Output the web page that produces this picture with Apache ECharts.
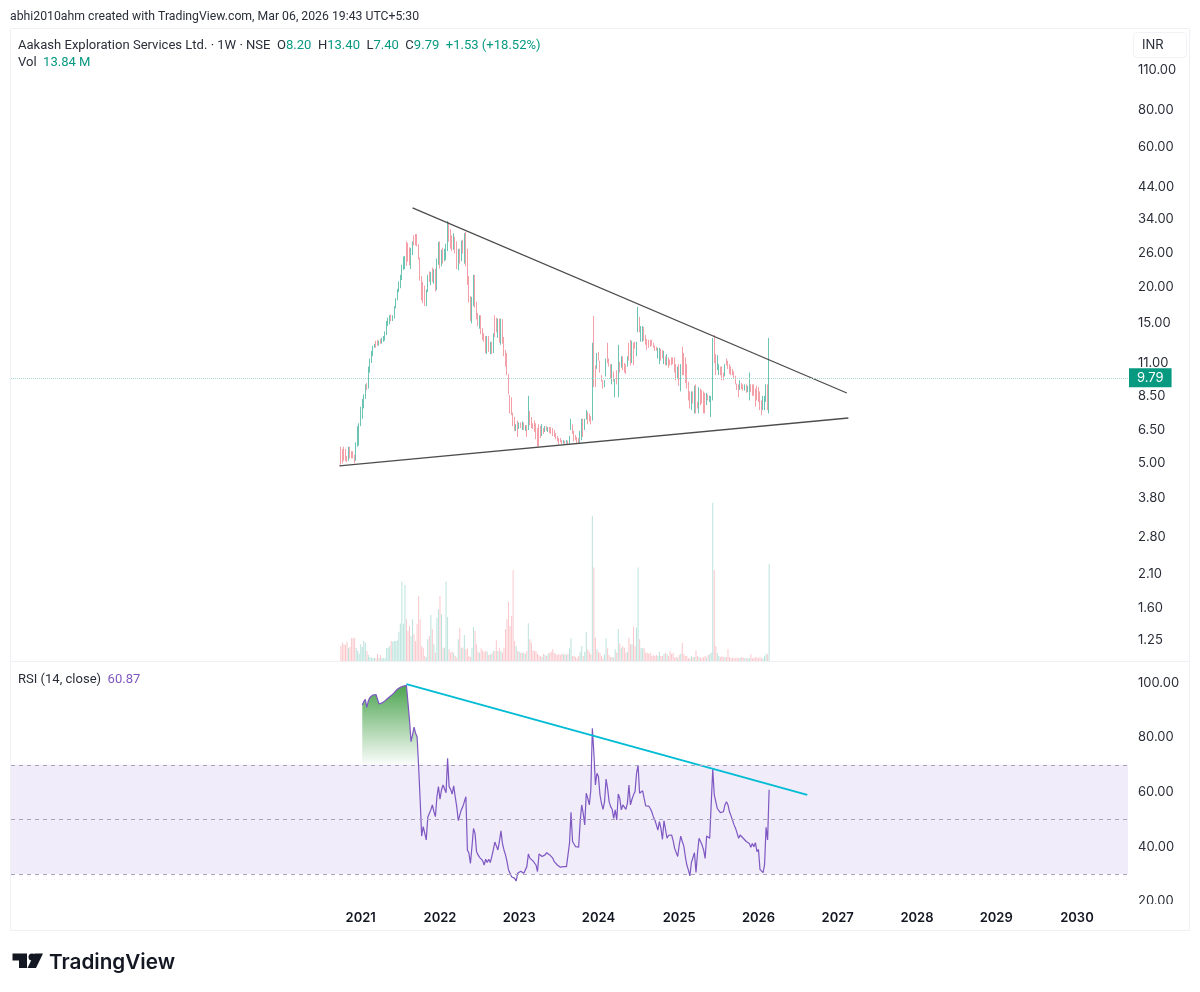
<!DOCTYPE html>
<html>
<head>
<meta charset="utf-8">
<title>Aakash Exploration Services Ltd.</title>
<script src="https://cdn.jsdelivr.net/npm/echarts@6/dist/echarts.min.js"></script>
<style>
  html, body { margin: 0; padding: 0; background: #fff; }
  #chart { width: 1200px; height: 992px; }
</style>
</head>
<body>
<div id="chart"></div>
<script>
// weekly bars, first one is the week of 2020-10-05
var opens = [
  5.6,5.5,5.4,5.5,5.25,5.15,5.6,5.45,5.4,5.3, 5.1,5.75,6.6,6.75,7.7,8,8.5,9.2,9,10.5,
  11.2,12,12.5,13,12.9,12.7,13.1,13,13.2,13.3, 14,15,15.2,16,15.5,15.9,17,18.2,19.5,20.2,
  21.6,23,23.5,28.4,28,27,23.5,26,29.8,30, 29.8,27.7,25,21.5,20,19.7,18,19.5,21.5,21,
  22,21,22.3,20.5,24.5,27,24,26,25,26, 27,32,29.5,28,27,28,27,24,25.5,25,
  28,26.5,30,24.5,21.5,18.2,15.8,18,21,17.5, 16,15,15.7,14.2,13.5,13.2,12.3,13.3,12.3,12.7,
  12,15.5,15.2,14.2,15.4,13.1,15.3,13.1,12,11, 10,8.5,8.3,7.4,7.1,6.5,6.95,6.55,6.85,6.65,
  6.85,6.55,6.7,6.6,7.5,6.9,6.75,6.65,6.8,6.5, 6.7,6.6,6.2,6.55,6.45,6.6,6.5,6.6,6.45,6.4,
  6.3,6.25,6.1,6,6.05,5.92,5.88,5.95,5.87,5.92, 5.85,6.5,6.7,6.4,6.1,6.05,5.9,5.85,6.4,7,
  6.5,7.05,7.5,7.3,7.1,7,12.5,10,10.7,11.7, 11,9.95,9.55,9.2,9.9,12.5,11.2,10.85,10,10.25,
  8.5,10.2,8.6,11,10.6,11.4,11,10.9,10.7,12.6, 13.2,11.2,12.9,12.8,12.4,14,15.7,13.2,13.6,14.4,
  13.5,13.2,13.2,12.9,13.1,12.8,12.5,12.4,11.8,11.9, 12,12.2,11,11.6,11,11.5,11.2,11.3,11.4,11.3,
  10.5,9.8,10.5,9.2,12.4,11.8,11.5,10.8,9.3,8.4, 7.7,8.7,7.5,9.1,8.05,7.5,8.9,8.85,8.6,8.5,
  7.9,8.5,8.2,7.6,8.3,13.7,11.5,10.5,10,10.6, 10.6,10.2,9.9,11.4,11.2,10.9,10.5,10.3,10.1,9.8,
  9.3,9.1,8.9,9.4,9.05,8.9,9,8.8,8.3,9.2, 8.9,9.1,8.9,9,9,8.7,8.1,7.7,7.7,8.2,
  9.2,8.2
];
var highs = [
  5.7,5.6,5.7,5.6,5.3,5.7,5.7,5.5,5.5,5.35, 5.9,6.7,6.85,7.8,8.3,8.6,9.3,9.4,10.7,11.4,
  12.1,12.6,12.8,13.1,13.2,13.1,13.3,13.4,13.6,14.1, 15.3,15.7,16,16.1,16,17.2,18.3,19.7,20.9,22,
  23.8,25.4,25.5,28.6,28.3,27.3,27.2,28.6,30,30.3, 30.3,28,25.2,21.8,20.8,20.2,19.6,22,22.6,22.5,
  23.3,23,23.1,25,28.5,28.6,26.8,27.2,27,28.1, 33.6,33.3,31.5,30,30.5,29.7,28.6,27,27,28.8,
  29,30.5,30.8,27,21.8,18.6,18.5,22,22,17.8, 16.3,16,16,14.5,13.9,13.6,13.6,13.6,13,13,
  13.9,16,15.7,15.6,15.6,15.6,15.5,13.5,12.2,11.9, 10.1,8.55,8.4,7.45,7.2,6.8,7,6.9,6.9,6.95,
  6.9,6.75,6.75,8.5,7.55,7.2,6.85,7,6.85,6.6, 6.8,6.7,6.8,6.6,6.7,6.7,6.65,6.65,6.65,6.6,
  6.5,6.35,6.2,6.1,6.1,6,6,5.97,6,5.98, 6.2,7.1,6.8,6.45,6.25,6.15,6.1,6.45,7.1,7.1,
  7.1,7.6,7.5,7.4,7.25,12.9,15.9,10.8,11.9,12, 11.2,10,9.6,9.6,11.4,12.9,11.4,10.9,10.9,10.3,
  9.7,10.4,12.7,11.1,11.6,11.6,11,10.9,11.6,12.9, 13.2,13.1,12.9,13,13,17.1,15.8,14.7,14.7,14.6,
  13.7,13.3,13.2,13.2,13.2,12.9,12.6,12.5,12.4,12.4, 12.3,12.2,12.1,11.6,11.8,11.5,11.3,11.5,11.5,11.5,
  10.9,10.7,10.9,10.9,12.5,11.9,11.5,10.9,9.5,8.8, 8.8,8.8,9.2,9.3,8.1,9.1,9,8.9,8.8,8.7,
  8.7,8.6,8.5,8.5,13.4,13.7,11.8,11.7,10.9,10.7, 10.7,10.2,10.9,11.4,11.2,10.9,10.7,10.5,10.3,9.95,
  9.35,9.3,9.6,9.4,9.3,9.3,9.3,9.2,10.2,9.3, 9.3,9.3,9,9.2,9.1,8.8,8.2,8.5,8.5,9.3,
  9.3,13.4
];
var lows = [
  4.95,5,5.1,5.1,5.05,5.1,5.2,5.2,5.2,5, 5.1,5.7,5.75,6.7,7.1,7.7,8.3,8.9,9,10.2,
  11,11.6,12.4,12.4,12.6,12.6,12.8,12.8,13,13.1, 13.7,14.7,14.9,15.3,15.3,15.6,16.9,18,19.2,19.8,
  21.1,22.9,23,23.6,24.4,23.7,23,25.7,27.7,27.7, 27.5,24.8,21,18,17.6,17.2,17.2,19.2,20.8,20.3,
  20.8,20.5,19.3,19.5,23.8,23.1,23.5,24,24.5,24.7, 26.5,28.5,27,26.5,26.8,26,23,22.8,24,24.5,
  26,24,23.5,20.3,17.7,15.3,15,17.2,17,15.5, 14.7,14.4,13.8,13.2,13,11.9,11.8,12,11.8,11.8,
  11.9,13.5,14,13.4,12.9,12.7,12.8,11.6,10.7,10, 8.6,7.4,7.3,6.7,6.45,6.45,6.15,6.55,6.6,6.5,
  6.5,6.45,6.15,6.5,6.75,6.6,6.55,6.4,6.05,5.7, 5.72,6.1,6.2,6.3,6.4,6.45,6.4,6.35,6.3,6.2,
  6.15,6.05,5.95,5.8,5.9,5.82,5.84,5.83,5.84,5.8, 5.83,6.5,6.3,5.95,6,5.85,5.83,5.85,6,6.15,
  6.5,7.05,6.8,6.95,6.8,7,9.1,9.1,10.5,11.2, 10.2,9.5,9,9.1,9.9,11,10.7,9.7,9.3,9.5,
  8.4,9.3,8.4,10.2,10.6,10.4,10.2,10.1,10.7,11.2, 10.8,11,10.8,12.3,11.6,14,14,13,13,13.1,
  12.7,12.2,12.4,12.5,12.6,12.4,12.1,12.1,11.4,10.9, 11.2,11.4,10.9,10.8,10.8,10.6,10.8,10.8,10.9,10.2,
  9.6,9.7,9.2,8.8,10,10,9.4,9,8.2,7.7, 7.6,8,7.4,7.4,7.7,7.4,7.9,8,7.4,7.4,
  7.9,8.2,8.1,7.2,8.2,11,10,10.4,10,10, 9.6,9.6,9.9,10.8,10.5,10.1,10,10,9.7,9.3,
  8.9,8.4,8.9,8.95,8.85,8.85,8.7,8.75,8.2,8.75, 8.5,8.5,7.8,8.2,8.1,7.6,7.3,7.6,7.6,8.1,
  7.6,7.4
];
var closes = [
  5.05,5.1,5.2,5.2,5.15,5.6,5.3,5.3,5.3,5.1, 5.85,6.6,6.75,7.7,8.2,8.5,9.2,8.95,10.5,11.2,
  12,12.5,12.6,12.6,12.7,12.9,12.9,13.2,13.5,14, 15.2,15.6,15.8,15.5,15.9,17,18.2,19.6,20.7,21.5,
  23.3,24.8,25,25,25,24,26.5,28.5,28,28.3, 27.7,25,21.5,18.4,18,17.4,19.3,21.5,21,22,
  21,22.3,20.5,24.5,27.5,24,26,25,26,27.5, 32,29.5,28,27,28,27,24,25.5,25,28,
  26.5,30,24.5,21.5,18.2,16,18,21,17.5,16, 15,15.7,14.2,13.5,13.2,12.3,13.3,12.3,12.7,12,
  13.7,13.8,14.2,15.4,13.1,15.3,13.1,12,11,10.3, 8.8,7.6,7.5,6.9,6.6,6.7,6.3,6.85,6.65,6.85,
  6.55,6.7,6.25,7.5,6.9,6.75,6.65,6.5,6.15,5.85, 6.4,6.2,6.6,6.4,6.6,6.5,6.6,6.45,6.4,6.3,
  6.25,6.1,6,5.85,5.92,5.88,5.95,5.87,5.92,5.85, 6.15,7,6.4,6.05,6.05,5.9,5.85,6.4,7,6.4,
  7.05,7.5,7,7.05,6.9,12.5,10,9.6,11.7,11.3, 10.4,9.7,9.2,9.5,11.2,11.2,11,10,10.5,9.6,
  9.5,9.5,12,10.3,11.4,10.7,10.3,10.3,11.4,11.3, 11,12.8,11,12.4,12.8,16.5,14.5,13.6,14.3,13.7,
  12.9,12.4,12.8,12.7,12.8,12.5,12.2,12.2,12.2,12, 11.4,11.5,12,10.9,11.5,10.7,10.9,10.9,11,10.4,
  9.8,10.5,9.5,10.7,10.2,10.2,9.7,9.2,8.4,8, 8.7,8.1,9,7.6,7.8,8.9,8.1,8.2,7.6,7.5,
  8.5,8.3,8.4,8.3,12.6,11.3,10.4,11,10.6,10.2, 9.8,9.7,10.7,11,10.7,10.3,10.2,10.1,9.8,9.4,
  9.05,8.6,9.4,9.05,8.9,9,8.8,9,9.2,8.9, 8.6,8.7,8,8.4,8.3,7.8,7.5,8.4,8.3,9.1,
  8.26,9.79
];
// volume in millions
var volumes = [
  2.14,2.62,2.38,2.28,2.76,1.9,2,3.33,3.24,3.33, 1.9,1.43,1.05,2.38,2,2.86,2.62,1.43,.86,.57,
  .48,.38,.48,.38,1.05,.48,.86,.38,.38,.38, 1.81,1.9,2.14,2.86,2.76,2.86,2.86,2.95,4.19,5.33,
  11.33,5.33,10.85,5.95,4.28,5,3.57,5.95,3.81,2.86, 5.24,9.28,5.95,2.14,1.9,.71,.57,3.09,3.57,6.57,
  4.52,2.38,1.19,6.19,7.38,9.28,6.66,1.9,1.9,11.33, 6.28,1.67,1.19,1.33,1.19,.71,.48,3.09,4.76,1.9,
  1.9,3.71,1.67,1.81,.71,.57,1.9,4.86,4.28,2.38, 1.33,1.19,1.81,1.52,1.33,1.43,1.33,.86,.95,1.05,
  1.43,1.43,2.95,1.43,1.9,1.43,1.19,1.9,4.52,5.95, 8.47,5,6.43,12.95,2.86,2.14,1.43,1.33,1.19,1.19,
  1.19,1.05,1.43,5.38,3.09,2.62,1.52,1.43,1.43,1.05, .86,.71,.57,1.05,.86,.71,1.05,1.19,1.33,1.71,
  1.19,1.05,.86,1.05,.86,1.05,.95,1.05,.86,1.05, 1.81,3.24,.71,.71,.57,.38,.71,1.33,2.14,.71,
  1.33,4.19,1.67,1.33,.95,20.7,13.33,3.33,1.67,1.33, 1.19,.71,.38,.95,3.24,1.81,.86,.57,.57,.48,
  1.67,1.19,4.57,2.48,1.9,2.14,1.9,1.19,1.33,3.33, 2.38,2.38,4.9,2.14,4.76,13.33,3.09,1.9,1.81,1.81,
  1.19,1.19,1.05,1.19,.71,.86,.71,.86,.71,1.33, .71,.71,1.05,1.19,.95,.71,1.43,1.05,1.19,.48,
  .57,.48,.86,1.05,2.62,1.05,.71,.71,.38,.38, .71,.57,.57,1.52,.71,.57,.48,.38,.57,.71,
  .48,.86,.95,1.19,22.6,12.95,2.14,1.19,.71,.57, .71,.57,.57,.57,1.67,.57,.38,.48,.38,.38,
  .48,.38,.48,.57,.48,.38,.38,.38,.38,.95, .38,.38,.57,.48,.38,.57,.38,.38,.71,1.05,
  .95,13.84
];
// rsi starts on bar 14
var rsiStart = 14;
var rsiValues = [
  91.9,93.2,94,91.1,93.5,94.7,95.2,95.6,95.7,95.8, 96,92.3,92.5,92.7,92.8,93.5,94.1,94.5,95,95.4,
  96,96.5,97.2,97.7,98,98.4,98.7,98.9,99,99.1, 98.9,86.4,78.5,81,83.8,81.6,80.3,69.3,57,43.9,
  47.4,47,42.5,50.8,52.2,53.5,55.3,52.9,51,58.3, 62,57.4,60.8,62.6,62.4,59.8,72.4,62,61,59.3,
  62.3,58.3,54.7,49.6,49.4,53.5,54.7,55.3,58.3,38.8, 37.6,33.9,40,46.7,44.9,38.2,37,36.1,35.8,34.9,
  33.3,35.4,34.2,35.4,34.2,36.4,38.8,41.7,41,38.8, 41.9,45.8,41.2,38.8,37,34.5,31.5,30.3,29,28.8,
  28.4,27.4,30.3,30.6,31,30.6,30.3,30,32.7,37.3, 35.8,35.1,34.8,34.2,33.3,30.9,37.3,37,36.4,35.8,
  37,37.8,37.3,37,37.3,35.8,34.5,33.9,33.3,32.9, 32.5,32.2,32.7,32.1,32.7,33.3,41.2,52.6,41.9,41.2,
  40,39.5,39.8,49.2,55.3,52.2,48,59.6,57.7,55.3, 60.8,83.4,74.2,62.6,66.9,65.7,59,55.9,53.7,56.5,
  64.8,61.4,56.5,54.7,53.7,50.4,53.5,49.8,59.3,57.7, 53.5,55.3,55.3,53.7,55.9,62.6,55.3,57.4,59,60.2,
  66.9,69.9,59.6,60.2,60.5,57.7,55,54.9,54.9,54, 52.8,51,49.8,48,46.1,49.2,46.7,42.7,49.5,46.4,
  43.1,44.2,44.4,44.3,42.2,39.4,40,36.4,40.6,43.9, 41.9,40.3,36.4,33.3,31.5,29.3,34.2,34.5,37.8,30.6,
  37.6,43.1,41.9,40.6,38.8,35.7,43.9,43.4,43.1,43.7, 68.4,59,59,54,53.7,52.5,52.2,52.8,55.3,56.5,
  55.3,52.8,51.3,51.3,48,46.7,44.9,43.1,44.3,43.7, 43.1,42.5,41.9,41.2,41.2,39.8,41.2,40,41.5,38.2,
  39,31.7,31.2,30.5,33.3,47.1,42.5,60.87
];
var lastClose = 9.79;
var priceTicks = [110, 80, 60, 44, 34, 26, 20, 15, 11, 8.5, 6.5, 5, 3.8, 2.8, 2.1, 1.6, 1.25];
var rsiTicks = [100, 80, 60, 40, 20];
var rsiLevels = [70, 50, 30];
// [week index, value] ends of the hand drawn lines
var trendUpper = [[263, 37.2], [548, 8.69]];
var trendLower = [[215, 4.9], [549, 7.14]];
var trendRsi = [[259, 99.6], [522, 59]];

var upColor = '#089981';
var downColor = '#f23645';
var firstBarWeek = 216;

// axis runs weekly from 2016-08-15 to autumn 2030
var weeks = [];
for (var w = 0; w < 733; w++) {
  weeks.push(new Date(Date.UTC(2016, 7, 15 + w * 7)).toISOString().slice(0, 10));
}
var pad = function (n) { var a = []; for (var k = 0; k < n; k++) a.push('-'); return a; };

var candleData = pad(firstBarWeek);
var volumeData = pad(firstBarWeek);
opens.forEach(function (o, i) {
  candleData.push([o, closes[i], lows[i], highs[i]]);
  volumeData.push({
    value: volumes[i],
    itemStyle: { color: closes[i] >= o ? 'rgba(8,153,129,0.28)' : 'rgba(242,54,69,0.28)' }
  });
});
var rsiData = pad(firstBarWeek + rsiStart).concat(rsiValues);
// overbought stretch at the start gets the green fill
var rsiHot = pad(firstBarWeek + rsiStart).concat(rsiValues.slice(0, 38));

var font = 'Inter, "Noto Sans", sans-serif';
var headFont = 'Roboto, "Noto Sans", sans-serif';

var chart = echarts.init(document.getElementById('chart'), null, { renderer: 'canvas' });
chart.setOption({
  animation: false,
  backgroundColor: '#fff',
  textStyle: { fontFamily: font },
  title: [
    {
      text: 'abhi2010ahm created with TradingView.com, Mar 06, 2026 19:43 UTC+5:30',
      left: 5, top: 6,
      textStyle: { fontSize: 12.25, fontWeight: 400, color: '#2a2e39', fontFamily: headFont }
    },
    {
      text: 'Aakash Exploration Services Ltd. · 1W · NSE  O{g|8.20}  H{g|13.40}  L{g|7.40}  C{g|9.79}  {g|+1.53 (+18.52%)}',
      left: 13, top: 34,
      textStyle: {
        fontSize: 13.05, fontWeight: 400, color: '#2a2e39', fontFamily: headFont,
        rich: { g: { color: upColor, fontSize: 13.05, fontFamily: headFont } }
      }
    },
    {
      text: 'Vol  {g|13.84 M}',
      left: 13, top: 51,
      textStyle: {
        fontSize: 13.05, fontWeight: 400, color: '#2a2e39', fontFamily: headFont,
        rich: { g: { color: upColor, fontSize: 13.05, fontFamily: headFont } }
      }
    },
    {
      text: 'RSI (14, close)  {p|60.87}',
      left: 13, top: 668,
      textStyle: {
        fontSize: 13.05, fontWeight: 400, color: '#2a2e39', fontFamily: headFont,
        rich: { p: { color: '#7e57c2', fontSize: 13.05, fontFamily: headFont } }
      }
    },
    {
      text: 'TradingView',
      left: 44, top: 947,
      textStyle: { fontSize: 20.7, fontWeight: 600, color: '#131722', fontFamily: font }
    }
  ],
  grid: [
    { left: 11, right: 72, top: 29, height: 632 },
    { left: 11, right: 72, top: 662, height: 242 }
  ],
  xAxis: [
    {
      type: 'category', gridIndex: 0, data: weeks,
      axisLine: { show: false }, axisTick: { show: false }, axisLabel: { show: false }, splitLine: { show: false }
    },
    {
      type: 'category', gridIndex: 1, data: weeks,
      axisLine: { show: false }, axisTick: { show: false }, splitLine: { show: false },
      axisLabel: {
        margin: 8, fontSize: 13, fontWeight: 600, color: '#131722', fontFamily: font,
        interval: function (idx, val) {
          return val.slice(5, 7) === '01' && +val.slice(8) <= 7 && +val.slice(0, 4) >= 2021;
        },
        formatter: function (val) { return val.slice(0, 4); }
      }
    }
  ],
  yAxis: [
    {
      type: 'log', logBase: 10, gridIndex: 0, position: 'right', min: 1.058, max: 151.8,
      axisLine: { show: false }, axisTick: { show: false }, splitLine: { show: false },
      axisLabel: {
        margin: 10, fontSize: 13, color: '#2a2e39', fontFamily: font, padding: [3, 0, 0, 0],
        customValues: priceTicks,
        formatter: function (v) { return (+v).toFixed(2); }
      }
    },
    {
      type: 'value', gridIndex: 0, position: 'right', min: 0, max: 90.2, show: false
    },
    {
      type: 'value', gridIndex: 1, position: 'right', min: 19, max: 107.7,
      axisLine: { show: false }, axisTick: { show: false }, splitLine: { show: false },
      axisLabel: {
        margin: 10, fontSize: 13, color: '#2a2e39', fontFamily: font, padding: [2, 0, 0, 0],
        customValues: rsiTicks,
        formatter: function (v) { return v.toFixed(2); }
      }
    }
  ],
  series: [
    {
      name: 'Vol', type: 'bar', xAxisIndex: 0, yAxisIndex: 1, barWidth: 1,
      data: volumeData, silent: true, z: 1
    },
    {
      name: 'Price', type: 'candlestick', xAxisIndex: 0, yAxisIndex: 0,
      barWidth: 1, data: candleData, z: 3,
      itemStyle: {
        color: '#6cc4b4', color0: '#f4a0a8',
        borderColor: '#6cc4b4', borderColor0: '#f4a0a8', borderWidth: 1
      },
      markLine: {
        silent: true, symbol: 'none',
        lineStyle: { color: '#a5dbd1', type: 'dotted', width: 1 },
        label: {
          position: 'end', distance: 1, formatter: lastClose.toFixed(2),
          backgroundColor: upColor, color: '#fff', padding: [3, 8, 3, 8], fontSize: 13, fontFamily: font
        },
        data: [{ yAxis: lastClose }]
      }
    },
    {
      name: 'Upper', type: 'line', xAxisIndex: 0, yAxisIndex: 0, data: trendUpper, z: 4,
      showSymbol: false, silent: true, lineStyle: { color: '#4d4d4d', width: 1.3 }
    },
    {
      name: 'Lower', type: 'line', xAxisIndex: 0, yAxisIndex: 0, data: trendLower, z: 4,
      showSymbol: false, silent: true, lineStyle: { color: '#4d4d4d', width: 1.3 }
    },
    {
      name: 'RSI fill', type: 'line', xAxisIndex: 1, yAxisIndex: 2, data: rsiHot, z: 2,
      showSymbol: false, silent: true, lineStyle: { width: 0, opacity: 0 },
      areaStyle: {
        origin: 70, opacity: 1,
        color: new echarts.graphic.LinearGradient(0, 0, 0, 1, [
          { offset: 0, color: 'rgba(67,160,71,0.95)' },
          { offset: 1, color: 'rgba(67,160,71,0)' }
        ])
      }
    },
    {
      name: 'RSI', type: 'line', xAxisIndex: 1, yAxisIndex: 2, data: rsiData, z: 3,
      showSymbol: false, silent: true, lineStyle: { color: '#7e57c2', width: 1.2 },
      markArea: {
        silent: true, itemStyle: { color: '#f0ecf9' },
        data: [[{ yAxis: rsiLevels[0] }, { yAxis: rsiLevels[2] }]]
      },
      markLine: {
        silent: true, symbol: 'none', label: { show: false },
        lineStyle: { color: '#aba3bd', type: [4, 4], width: 1 },
        data: rsiLevels.map(function (v) { return { yAxis: v }; })
      }
    },
    {
      name: 'RSI trend', type: 'line', xAxisIndex: 1, yAxisIndex: 2, data: trendRsi, z: 4,
      showSymbol: false, silent: true, lineStyle: { color: '#00bcd4', width: 2 }
    }
  ],
  graphic: [
    // outer frame and pane divider
    { type: 'rect', silent: true, z: 0, shape: { x: 10.5, y: 28.5, width: 1179, height: 902 },
      style: { fill: 'none', stroke: '#eef0f3', lineWidth: 1 } },
    { type: 'line', silent: true, z: 0, shape: { x1: 11, y1: 661.5, x2: 1189, y2: 661.5 },
      style: { stroke: '#eef0f3', lineWidth: 1 } },
    // currency box
    { type: 'rect', silent: true, z: 5, shape: { x: 1133.5, y: 32.5, width: 53, height: 25, r: 4 },
      style: { fill: '#fff', stroke: '#f0f2f5', lineWidth: 1 } },
    { type: 'text', silent: true, z: 6, x: 1142, y: 39,
      style: { text: 'INR', fontSize: 13, fontFamily: font, fill: '#2a2e39' } },
    // the 20.00 label is cut by the time scale
    { type: 'rect', silent: true, z: 20, shape: { x: 1130, y: 904, width: 58, height: 26 },
      style: { fill: '#fff' } },
    // logo
    { type: 'polygon', silent: true, shape: { points: [[12.5, 953.5], [27, 953.5], [27, 968], [19, 968], [19, 960.5], [12.5, 960.5]] },
      style: { fill: '#131722' } },
    { type: 'circle', silent: true, shape: { cx: 32, cy: 957, r: 3.5 }, style: { fill: '#131722' } },
    { type: 'polygon', silent: true, shape: { points: [[43, 953.5], [36, 968], [27.5, 968], [34.5, 953.5]] },
      style: { fill: '#131722' } }
  ]
});
</script>
</body>
</html>
